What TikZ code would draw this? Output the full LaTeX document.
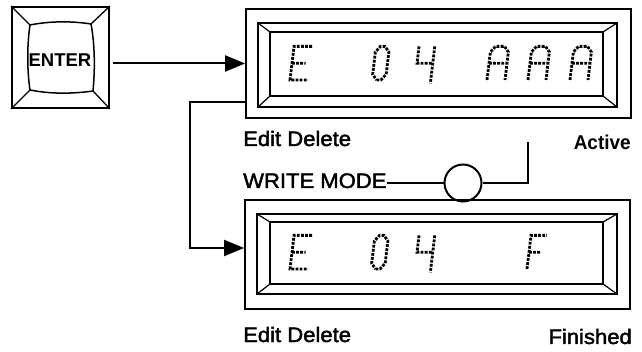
\documentclass[tikz,border=0pt]{standalone}
\usepackage{fontspec}
\setmainfont{Liberation Sans}
\newfontfamily\lblfont[FakeStretch=1.05, FakeBold=2]{Liberation Sans}
\newfontfamily\actfont[FakeStretch=0.95]{Liberation Sans Bold}
\usetikzlibrary{arrows.meta}
\begin{document}
\begin{tikzpicture}[x=1pt,y=-1pt,
  box/.style={draw, line width=1.8pt, inner sep=0pt},
  conn/.style={line width=2pt},
  arr/.style={conn, -{Triangle[length=20pt,width=16pt]}},
  lbl/.style={inner sep=0pt, font=\lblfont\fontsize{21}{23}\selectfont},
  dotted glyph/.style={line width=2.8pt, dash pattern=on 2.8pt off 1.3pt},
  glyph/.style={x=4.5pt, y=5.6pt, xslant=0.12}
]
\useasboundingbox (0,0) rectangle (642,352);

% ENTER key
\node[box, minimum width=97pt, minimum height=101pt] (enter) at (60.5,57.5) {};
\draw[line width=1.5pt] (30,25) .. controls (50,21) and (72,21) .. (91,24)
  .. controls (95,45) and (95,70) .. (93,91)
  .. controls (72,94) and (50,94) .. (30,90)
  .. controls (27,70) and (27,45) .. (30,25) -- cycle;
\draw[line width=1.3pt] (enter.north west) -- (30,25) (enter.north east) -- (91,24)
  (enter.south west) -- (30,90) (enter.south east) -- (93,91);
\node[inner sep=0pt, font=\bfseries\fontsize{18.5}{20}\selectfont] (entertxt) at (60,60) {ENTER};

% Display 1
\node[box, minimum width=385pt, minimum height=109pt] (d1) at (438.5,63.5) {};
\draw[line width=1.4pt] (258,23) rectangle (617,107);
\draw[line width=2pt] (270,32) rectangle (603,96);
\draw[line width=1.2pt] (258,23)--(270,32) (617,23)--(603,32) (258,107)--(270,96) (617,107)--(603,96);

% Display 2
\node[box, minimum width=385pt, minimum height=109pt] (d2) at (437.5,254.5) {};
\draw[line width=1.4pt] (257,214) rectangle (617,294);
\draw[line width=2pt] (270,222) rectangle (603,284);
\draw[line width=1.2pt] (257,214)--(270,222) (617,214)--(603,222) (257,294)--(270,284) (617,294)--(603,284);

% glyphs display 1
\begin{scope}[shift={(290,80)}, glyph]
  \draw[dotted glyph] (4,6)--(0,6)--(0,0)--(4,0) (0,3)--(3,3);
\end{scope}
\begin{scope}[shift={(372,80)}, glyph]
  \draw[dotted glyph] (1,0)--(2,0)--(3,1)--(3,5)--(2,6)--(1,6)--(0,5)--(0,1)--cycle;
\end{scope}
\begin{scope}[shift={(415,80)}, glyph]
  \draw[dotted glyph] (0,6)--(0,3)--(3.5,3) (3.5,6)--(3.5,-0.6);
\end{scope}
\foreach \gx in {487,528,570}{
\begin{scope}[shift={(\gx,80)}, glyph]
  \draw[dotted glyph] (0,0)--(0,5)--(1,6)--(3,6)--(4,5)--(4,0) (0,3)--(4,3);
\end{scope}}

% glyphs display 2
\begin{scope}[shift={(290,269)}, glyph]
  \draw[dotted glyph] (4,6)--(0,6)--(0,0)--(4,0) (0,3)--(3,3);
\end{scope}
\begin{scope}[shift={(371,269)}, glyph]
  \draw[dotted glyph] (1,0)--(2,0)--(3,1)--(3,5)--(2,6)--(1,6)--(0,5)--(0,1)--cycle;
\end{scope}
\begin{scope}[shift={(415,269)}, glyph]
  \draw[dotted glyph] (0,6)--(0,3)--(3.5,3) (3.5,6)--(3.5,-0.6);
\end{scope}
\begin{scope}[shift={(527,269)}, glyph]
  \draw[dotted glyph] (0,0)--(0,6)--(3.5,6) (0,3)--(2.5,3);
\end{scope}

% connectors
\draw[arr] ([xshift=3pt]enter.east |- d1.west) -- (d1.west);
\coordinate (bend) at (190,248);
\draw[arr] ([yshift=17pt]d1.south west) -| (bend) -- (d2.west |- bend);

% labels
\node[lbl, anchor=base west] (ed1) at (243,146) {Edit Delete};
\node[inner sep=0pt, font=\actfont\fontsize{20}{22}\selectfont, anchor=base east] (act) at (631,150) {Active};
\node[lbl, anchor=base west] (wm) at (243,188) {WRITE MODE};
\node[draw, circle, line width=2pt, minimum size=37pt, inner sep=0pt] (sw) at (463,183) {};
\coordinate (wmtop) at (528,142);
\draw[conn] (wm.east |- sw.west) -- (sw.west);
\draw[conn] (sw.east) -| (wmtop);
\node[lbl, anchor=base west] (ed2) at (243,342) {Edit Delete};
\node[lbl, anchor=base east] (fin) at (632,344) {Finished};
\end{tikzpicture}
\end{document}
